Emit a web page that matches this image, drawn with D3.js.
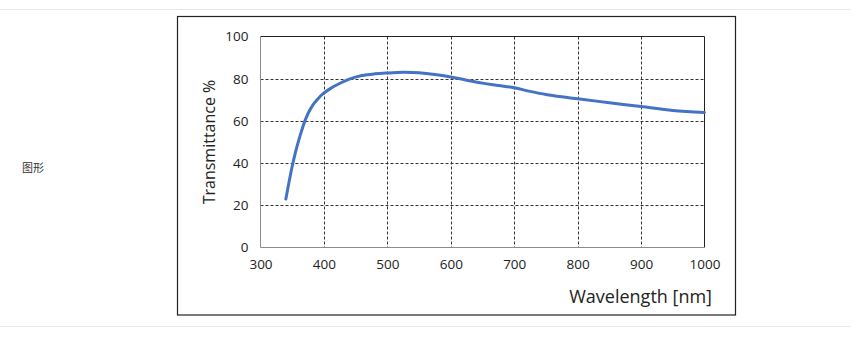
<!DOCTYPE html>
<html lang="zh">
<head>
<meta charset="UTF-8">
<title>Transmittance</title>
<script src="https://d3js.org/d3.v7.min.js"></script>
<style>
  body { margin: 0; background: #fff; }
  svg { display: block; }
</style>
</head>
<body>
<div id="chart"></div>
<script>

// wavelength (nm) and transmittance (%)
const wavelengths = [340, 345, 350, 355, 360, 365, 370, 375, 380, 385, 390, 395, 400, 410, 420, 440, 460, 480, 500,
                     525, 550, 575, 600, 625, 650, 675, 700, 725, 750, 775, 800, 850, 900, 950, 1000];
const transmittance = [23, 31, 38.5, 45, 50.5, 55.5, 60, 63.5, 66.3, 68.5, 70.3, 71.9, 73.2, 75.3, 77, 79.8, 81.5, 82.3, 82.7,
                       83, 82.8, 82, 80.8, 79.3, 77.9, 76.8, 75.7, 74, 72.5, 71.4, 70.5, 68.6, 66.8, 64.9, 64];
const xTicks = [300, 400, 500, 600, 700, 800, 900, 1000];
const yTicks = [0, 20, 40, 60, 80, 100];

const W = 868, H = 338;
const font = "'Open Sans', 'Noto Sans', sans-serif";

const svg = d3.select("#chart").append("svg")
    .attr("width", W)
    .attr("height", H);

// page separators
svg.append("line").attr("x1", 0).attr("x2", 850).attr("y1", 9.5).attr("y2", 9.5)
    .attr("stroke", "#e6e6e6").attr("stroke-width", 1);
svg.append("line").attr("x1", 0).attr("x2", 850).attr("y1", 326.5).attr("y2", 326.5)
    .attr("stroke", "#e6e6e6").attr("stroke-width", 1);

svg.append("text")
    .attr("x", 22).attr("y", 172)
    .attr("font-family", "'Noto Sans CJK SC', sans-serif")
    .attr("font-size", 11)
    .attr("fill", "#333")
    .text("图形");

// outer frame of the figure
svg.append("rect")
    .attr("x", 177.5).attr("y", 16.5)
    .attr("width", 558).attr("height", 298.5)
    .attr("fill", "#fff").attr("stroke", "#222").attr("stroke-width", 1.2);

const plot = { left: 260.5, top: 36.5, right: 704.5, bottom: 247.5 };

const x = d3.scaleLinear().domain([300, 1000]).range([plot.left, plot.right]);
const y = d3.scaleLinear().domain([0, 100]).range([plot.bottom, plot.top]);

const g = svg.append("g");

// grid
g.selectAll(".vgrid").data(xTicks.slice(1, -1)).join("line")
    .attr("x1", d => Math.round(x(d)) + 0.5).attr("x2", d => Math.round(x(d)) + 0.5)
    .attr("y1", plot.top).attr("y2", plot.bottom)
    .attr("stroke", "#333").attr("stroke-width", 1).attr("stroke-dasharray", "3,2");
g.selectAll(".hgrid").data(yTicks.slice(1, -1)).join("line")
    .attr("x1", plot.left).attr("x2", plot.right)
    .attr("y1", d => Math.round(y(d)) + 0.5).attr("y2", d => Math.round(y(d)) + 0.5)
    .attr("stroke", "#333").attr("stroke-width", 1).attr("stroke-dasharray", "3,2");

// plot border: top/right dark, left/bottom gray axis lines
g.append("line").attr("x1", plot.left).attr("x2", plot.right).attr("y1", plot.top).attr("y2", plot.top)
    .attr("stroke", "#222");
g.append("line").attr("x1", plot.right).attr("x2", plot.right).attr("y1", plot.top).attr("y2", plot.bottom)
    .attr("stroke", "#222");
g.append("line").attr("x1", plot.left).attr("x2", plot.left).attr("y1", plot.top).attr("y2", plot.bottom)
    .attr("stroke", "#8c8c8c");
g.append("line").attr("x1", plot.left).attr("x2", plot.right).attr("y1", plot.bottom).attr("y2", plot.bottom)
    .attr("stroke", "#8c8c8c");

// axes (labels only)
const xAxis = svg.append("g")
    .attr("transform", `translate(0,${plot.bottom})`)
    .call(d3.axisBottom(x).tickValues(xTicks).tickFormat(d3.format("d")).tickSize(0).tickPadding(12));
const yAxis = svg.append("g")
    .attr("transform", `translate(${plot.left},0)`)
    .call(d3.axisLeft(y).tickValues(yTicks).tickFormat(d3.format("d")).tickSize(0).tickPadding(12));
[xAxis, yAxis].forEach(a => {
    a.select(".domain").remove();
    a.selectAll("text")
        .attr("font-family", font)
        .attr("font-size", 13.5)
        .attr("fill", "#222");
});

// curve
const pts = wavelengths.map((w, i) => [w, transmittance[i]]);
svg.append("path")
    .datum(pts)
    .attr("fill", "none")
    .attr("stroke", "#4472c4")
    .attr("stroke-width", 3)
    .attr("stroke-linecap", "round")
    .attr("d", d3.line().x(d => x(d[0])).y(d => y(d[1])).curve(d3.curveCatmullRom));

// titles
svg.append("text")
    .attr("transform", `translate(215,${(plot.top + plot.bottom) / 2}) rotate(-90)`)
    .attr("text-anchor", "middle")
    .attr("font-family", font)
    .attr("font-size", 16)
    .attr("fill", "#222")
    .text("Transmittance  %");

svg.append("text")
    .attr("x", 712).attr("y", 303)
    .attr("text-anchor", "end")
    .attr("font-family", font)
    .attr("font-size", 18)
    .attr("fill", "#222")
    .text("Wavelength [nm]");

</script>
</body>
</html>
